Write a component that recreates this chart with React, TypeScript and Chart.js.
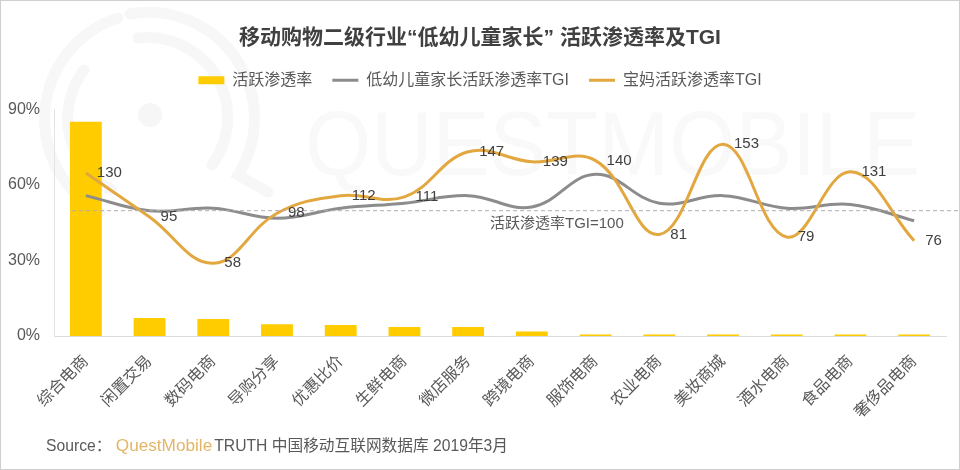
import { useEffect, useRef } from "react";
import { Chart, registerables, type Plugin } from "chart.js";

Chart.register(...registerables);

const FONT = '"Liberation Sans", "Noto Sans CJK SC", sans-serif';
const TEXT = "#595959";

const categories = [
  "综合电商", "闲置交易", "数码电商", "导购分享", "优惠比价", "生鲜电商", "微店服务",
  "跨境电商", "服饰电商", "农业电商", "美妆商城", "酒水电商", "食品电商", "奢侈品电商",
];
const activeRate = [85, 7.1, 6.7, 4.7, 4.4, 3.6, 3.6, 1.8, 0.6, 0.6, 0.6, 0.6, 0.6, 0.6];
const parentTgi = [112, 100, 102, 94, 102, 106, 112, 103, 129, 106, 112, 102, 105, 92];
const momTgi = [130, 95, 58, 98, 112, 111, 147, 139, 140, 81, 153, 79, 131, 76];
const BASE_TGI = 100;

/* keeps a gap under the legend without widening its inner padding */
const legendGap: Plugin = {
  id: "legendGap",
  beforeInit(chart) {
    const legend = chart.legend as any;
    const fit = legend.fit;
    legend.fit = function () {
      fit.call(this);
      this.height += 11;
    };
  },
};

/* dashed TGI=100 reference line and its caption */
const baseLine: Plugin = {
  id: "baseLine",
  afterDatasetsDraw(chart) {
    const { ctx } = chart;
    const y = chart.scales.y1.getPixelForValue(BASE_TGI);
    ctx.save();
    ctx.strokeStyle = "#b5adad";
    ctx.lineWidth = 1;
    ctx.setLineDash([4, 3]);
    ctx.beginPath();
    ctx.moveTo(72, y);
    ctx.lineTo(958, y);
    ctx.stroke();
    ctx.setLineDash([]);
    ctx.fillStyle = TEXT;
    ctx.font = `15px ${FONT}`;
    ctx.textAlign = "left";
    ctx.textBaseline = "middle";
    ctx.fillText("活跃渗透率TGI=100", 490, y + 13);
    ctx.restore();
  },
};

/* value labels to the right of the orange line's points */
const pointLabels: Plugin = {
  id: "pointLabels",
  afterDatasetsDraw(chart) {
    const { ctx } = chart;
    ctx.save();
    ctx.fillStyle = "#404040";
    ctx.font = `15px ${FONT}`;
    ctx.textAlign = "left";
    ctx.textBaseline = "middle";
    chart.getDatasetMeta(2).data.forEach((pt, i) => {
      ctx.fillText(String(momTgi[i]), pt.x + 11, pt.y);
    });
    ctx.restore();
  },
};

export default function App() {
  const canvasRef = useRef<HTMLCanvasElement>(null);

  useEffect(() => {
    if (!canvasRef.current) return;
    const chart = new Chart(canvasRef.current, {
      type: "bar",
      data: {
        labels: categories,
        datasets: [
          {
            type: "bar",
            label: "活跃渗透率",
            data: activeRate,
            backgroundColor: "#ffcc00",
            categoryPercentage: 1,
            barPercentage: 0.5,
            pointStyle: "rect",
            order: 3,
          } as never,
          {
            type: "line",
            label: "低幼儿童家长活跃渗透率TGI",
            data: parentTgi,
            yAxisID: "y1",
            borderColor: "#8c8c8c",
            backgroundColor: "#8c8c8c",
            borderWidth: 3,
            tension: 0.4,
            pointRadius: 0,
            pointStyle: "line",
            order: 2,
          } as never,
          {
            type: "line",
            label: "宝妈活跃渗透率TGI",
            data: momTgi,
            yAxisID: "y1",
            borderColor: "#e2a83f",
            backgroundColor: "#e2a83f",
            borderWidth: 3,
            tension: 0.4,
            pointRadius: 0,
            pointStyle: "line",
            order: 1,
          } as never,
        ],
      },
      options: {
        responsive: false,
        animation: false,
        plugins: {
          title: {
            display: true,
            text: "移动购物二级行业“低幼儿童家长” 活跃渗透率及TGI",
            color: "#404040",
            font: { family: FONT, size: 21, weight: "bold" },
            padding: { top: 26, bottom: 1 },
          },
          legend: {
            position: "top",
            labels: {
              usePointStyle: true,
              pointStyleWidth: 26,
              boxHeight: 8,
              padding: 20,
              color: TEXT,
              font: { family: FONT, size: 16 },
              sort: (a, b) => (a.datasetIndex ?? 0) - (b.datasetIndex ?? 0),
            },
          },
          tooltip: { enabled: false },
        },
        scales: {
          x: {
            grid: { display: false, drawTicks: false },
            border: { color: "#dcdcdc" },
            afterFit: (scale) => {
              scale.height = 134;
            },
            ticks: {
              color: TEXT,
              font: { family: FONT, size: 16 },
              minRotation: 45,
              maxRotation: 45,
              padding: 16,
              autoSkip: false,
            },
          },
          y: {
            min: 0,
            max: 90,
            grid: { display: false, drawTicks: false },
            border: { color: "#e4e4e4" },
            afterFit: (scale) => {
              scale.width = 54;
            },
            ticks: {
              stepSize: 30,
              color: TEXT,
              font: { family: FONT, size: 16 },
              padding: 14,
              callback: (v) => `${v}%`,
            },
          },
          y1: {
            position: "right",
            min: 0,
            max: 181,
            grid: { display: false, drawTicks: false },
            border: { display: false },
            ticks: { display: false },
            afterFit: (scale) => {
              scale.width = 14;
            },
          },
        },
      },
      plugins: [legendGap, baseLine, pointLabels],
    });

    return () => chart.destroy();
  }, []);

  return (
    <div style={{ position: "absolute", left: 0, top: 0, width: 960, height: 470, boxSizing: "border-box", border: "1px solid #cfcfcf", background: "#fff", overflow: "hidden" }}>
      {/* faint QuestMobile watermark behind the chart */}
      <svg width="960" height="470" style={{ position: "absolute", left: -1, top: -1 }}>
        <g fill="none" stroke="#f7f7f7" strokeWidth="11" strokeLinecap="round">
          <path d="M 130 14 A 106 106 0 0 1 238 175 L 268 192" />
          <path d="M 118 18 A 106 106 0 0 0 100 212" />
          <path d="M 138 38 A 80 80 0 0 1 212 165" />
          <path d="M 84 70 A 80 80 0 0 0 112 190" />
        </g>
        <circle cx="150" cy="115" r="12" fill="#f6f6f6" />
        <text x="305" y="175" fontFamily={FONT} fontSize="90" textLength="615" lengthAdjust="spacingAndGlyphs" fill="#f9f9f9">QUESTMOBILE</text>
      </svg>
      <canvas ref={canvasRef} width={960} height={470} style={{ position: "absolute", left: -1, top: -1 }} />
      <div style={{ position: "absolute", left: 45, top: 432, fontFamily: FONT, fontSize: 15.7, color: TEXT, whiteSpace: "pre" }}>
        {"Source： "}
        <span style={{ color: "#e3b566", fontSize: 17.2, marginRight: 2 }}>QuestMobile</span>
        {"TRUTH 中国移动互联网数据库 2019年3月"}
      </div>
    </div>
  );
}
